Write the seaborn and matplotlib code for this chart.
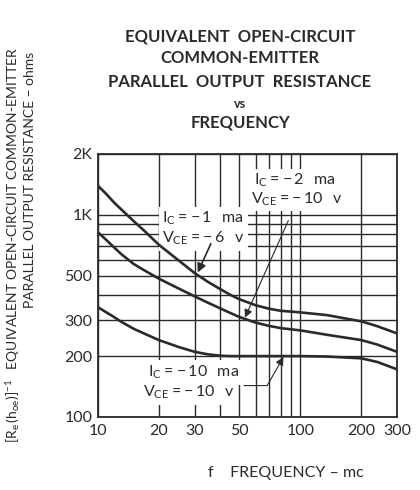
import matplotlib
matplotlib.use("Agg")
import matplotlib.pyplot as plt
from matplotlib.ticker import FixedLocator, FixedFormatter, NullFormatter
import pandas as pd
import seaborn as sns

# ── Data (log-log chart) ─────────────────────────────────────────────────────
FREQ       = [10, 11, 12, 13, 15, 17, 20, 25, 30, 35, 40, 45, 50, 60, 70, 80,
              100, 135, 200, 240, 300]
R_1MA_6V   = [1390, 1265, 1150, 1065, 930, 830, 710, 595, 515, 465, 430, 402,
              382, 357, 343, 335, 329, 319, 297, 281, 259]
R_2MA_10V  = [818, 750, 690, 640, 571, 530, 483, 432, 395, 367, 345, 327,
              312, 293, 282, 275, 268, 255, 240, 228, 210]
R_10MA_10V = [349, 329, 312, 296, 273, 258, 240, 222, 210, 204, 201, 200,
              200, 200, 200, 200, 200, 199, 195, 187, 172]
CURVES     = ["Ic=-1 ma", "Ic=-2 ma", "Ic=-10 ma"]

X_TICKS  = [10, 20, 30, 50, 100, 200, 300]
X_LABELS = ["10", "20", "30", "50", "100", "200", "300"]
Y_TICKS  = [100, 200, 300, 500, 1000, 2000]
Y_LABELS = ["100", "200", "300", "500", "1K", "2K"]
X_GRID_MINOR = [40, 60, 70, 80, 90]
Y_GRID_MINOR = [400, 600, 700, 800, 900]

TITLE_LINES = ["EQUIVALENT  OPEN-CIRCUIT", "COMMON-EMITTER",
               "PARALLEL  OUTPUT  RESISTANCE", "vs", "FREQUENCY"]

INK = "#2a2a2a"

sns.set_style("white")
plt.rcParams["font.family"] = ["Lato", "DejaVu Sans"]
plt.rcParams["text.color"] = INK
plt.rcParams["axes.edgecolor"] = INK
plt.rcParams["xtick.color"] = INK
plt.rcParams["ytick.color"] = INK

df = pd.DataFrame({
    "f": FREQ * 3,
    "r": R_1MA_6V + R_2MA_10V + R_10MA_10V,
    "curve": [c for c in CURVES for _ in FREQ],
})

fig = plt.figure(figsize=(4.2, 4.9), dpi=100)
ax = fig.add_axes([0.2333, 0.149, 0.712, 0.537])

sns.lineplot(data=df, x="f", y="r", hue="curve", palette=[INK] * 3,
             legend=False, lw=1.9, ax=ax, zorder=5)

ax.set_xscale("log")
ax.set_yscale("log")
ax.set_xlim(10, 300)
ax.set_ylim(100, 2000)

ax.xaxis.set_major_locator(FixedLocator(X_TICKS))
ax.xaxis.set_major_formatter(FixedFormatter(X_LABELS))
ax.xaxis.set_minor_locator(FixedLocator(X_GRID_MINOR))
ax.xaxis.set_minor_formatter(NullFormatter())
ax.yaxis.set_major_locator(FixedLocator(Y_TICKS))
ax.yaxis.set_major_formatter(FixedFormatter(Y_LABELS))
ax.yaxis.set_minor_locator(FixedLocator(Y_GRID_MINOR))
ax.yaxis.set_minor_formatter(NullFormatter())

ax.grid(which="both", color=INK, lw=1.0)
ax.set_axisbelow(True)
ax.tick_params(which="both", length=0, labelsize=11.5)
ax.tick_params(axis="x", pad=5)
ax.tick_params(axis="y", pad=4)
for s in ax.spines.values():
    s.set_linewidth(1.3)
ax.set_xlabel("")
ax.set_ylabel("")

# ── Curve labels (white boxes hide the grid behind them, as in the print) ────
box = dict(facecolor="white", edgecolor="none", pad=2.5)
lab = dict(fontsize=11.5, ha="left", va="center", zorder=3, bbox=box)

ax.text(59, 1472, r"$\mathregular{I_C = -\,2\ \ ma}$", **lab)
ax.text(57, 1199, r"$\mathregular{V_{CE} = -\,10\ \ v}$", **lab)

ax.text(20.8, 955, r"$\mathregular{I_C = -\,1\ \ ma}$", **lab)
ax.text(20.8, 762, r"$\mathregular{V_{CE} = -\,6\ \ v}$", **lab)

ax.text(17.7, 166, r"$\mathregular{I_C = -\,10\ \ ma}$", **lab)
ax.text(16.7, 132, r"$\mathregular{V_{CE} = -\,10\ \ v}$", **lab)

# arrows
ax.annotate("", xy=(31.1, 518), xytext=(36.1, 719), zorder=6,
            arrowprops=dict(arrowstyle="-|>", color=INK, lw=1.2,
                            mutation_scale=13, shrinkA=0, shrinkB=0))
ax.annotate("", xy=(53.2, 310), xytext=(87.1, 934), zorder=6,
            arrowprops=dict(arrowstyle="-|>", color=INK, lw=0.8,
                            mutation_scale=12, shrinkA=0, shrinkB=0))
ax.annotate("", xy=(68.5, 143), xytext=(52.6, 143), zorder=6,
            arrowprops=dict(arrowstyle="-", color=INK, lw=0.8,
                            shrinkA=0, shrinkB=0))
ax.annotate("", xy=(82.5, 198), xytext=(68.5, 143), zorder=6,
            arrowprops=dict(arrowstyle="-|>", color=INK, lw=0.8,
                            mutation_scale=12, shrinkA=0, shrinkB=0))

# ── Titles and axis labels ───────────────────────────────────────────────────
title_y = [37, 58, 82, 104, 122]
for line, py in zip(TITLE_LINES, title_y):
    fs = 9 if line == "vs" else 12
    fig.text(240 / 420, 1 - py / 490, line, ha="center", va="center",
             fontsize=fs, fontweight="bold")

fig.text(13 / 420, 1 - 245 / 490,
         r"$\mathregular{[R_e\,(h_{oe})]^{-1}}$   EQUIVALENT OPEN-CIRCUIT COMMON-EMITTER",
         rotation=90, ha="center", va="center", fontsize=10)
fig.text(30 / 420, 1 - 180 / 490, "PARALLEL OUTPUT RESISTANCE – ohms",
         rotation=90, ha="center", va="center", fontsize=10)
fig.text(286 / 420, 1 - 473 / 490, "f    FREQUENCY – mc",
         ha="center", va="center", fontsize=11.5)

fig.savefig("out.png", dpi=100, facecolor="white")
